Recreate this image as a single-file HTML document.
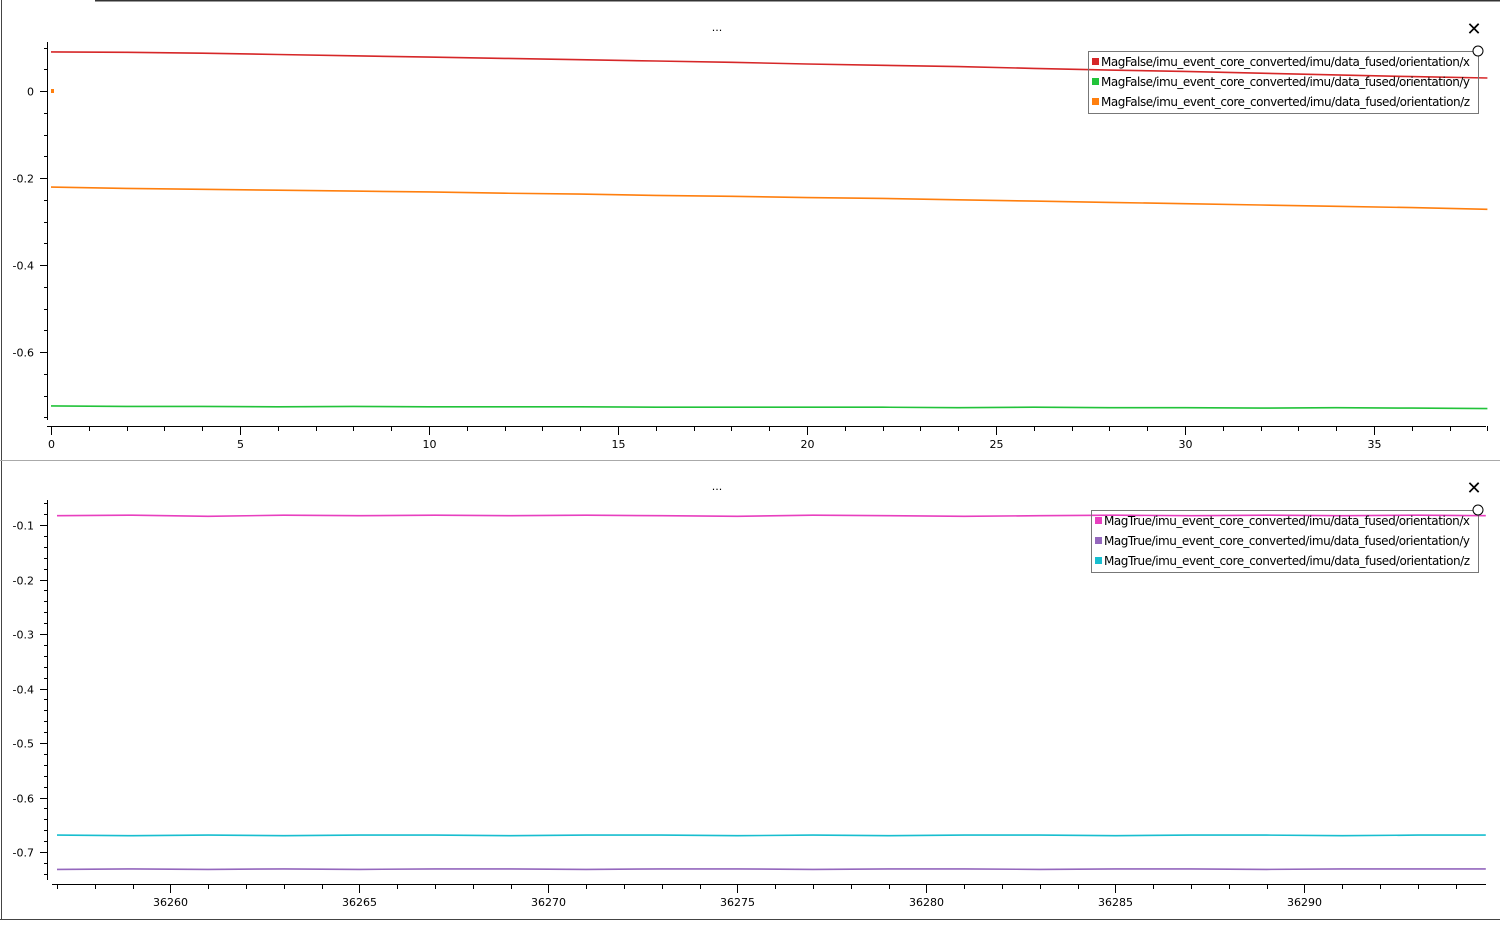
<!DOCTYPE html>
<html><head><meta charset="utf-8"><style>
body{margin:0;background:#fff;font-family:"Liberation Sans","DejaVu Sans",sans-serif}
svg text{font-family:"DejaVu Sans","Liberation Sans",sans-serif}
</style></head><body>
<svg id="c" width="1500" height="922" xmlns="http://www.w3.org/2000/svg">
<rect x="0" y="0" width="1500" height="922" fill="#fff"/>
<line x1="95" y1="0.5" x2="1500" y2="0.5" stroke="#333" stroke-width="2"/>
<line x1="1.5" y1="0" x2="1.5" y2="920" stroke="#444"/>
<line x1="0" y1="919.5" x2="1500" y2="919.5" stroke="#444"/>
<line x1="0" y1="460.5" x2="1500" y2="460.5" stroke="#aaa"/>
<g id="g"></g>
</svg>
<script>
// top chart data (t in seconds)
const topT=[0,2,4,6,8,10,12,14,16,18,20,22,24,26,28,30,32,34,36,38];
const topX=[0.090,0.089,0.087,0.084,0.081,0.078,0.075,0.072,0.069,0.066,0.062,0.059,0.056,0.052,0.048,0.045,0.041,0.037,0.033,0.030];
const topY=[-0.724,-0.725,-0.725,-0.726,-0.725,-0.726,-0.726,-0.726,-0.727,-0.727,-0.727,-0.727,-0.728,-0.727,-0.728,-0.728,-0.729,-0.728,-0.729,-0.730];
const topZ=[-0.221,-0.224,-0.226,-0.228,-0.230,-0.232,-0.235,-0.237,-0.240,-0.242,-0.245,-0.247,-0.250,-0.253,-0.256,-0.259,-0.262,-0.265,-0.268,-0.272];
const topYTicks=[0,-0.2,-0.4,-0.6];
const topXTicks=[0,5,10,15,20,25,30,35];
// bottom chart data
const botT=[36257,36259,36261,36263,36265,36267,36269,36271,36273,36275,36277,36279,36281,36283,36285,36287,36289,36291,36293,36294.8];
const botX=[-0.083,-0.082,-0.084,-0.082,-0.083,-0.082,-0.083,-0.082,-0.083,-0.084,-0.082,-0.083,-0.084,-0.083,-0.082,-0.083,-0.082,-0.083,-0.082,-0.083];
const botY=[-0.732,-0.731,-0.732,-0.731,-0.732,-0.731,-0.731,-0.732,-0.731,-0.731,-0.732,-0.731,-0.731,-0.732,-0.731,-0.731,-0.732,-0.731,-0.731,-0.731];
const botZ=[-0.669,-0.670,-0.669,-0.670,-0.669,-0.669,-0.670,-0.669,-0.669,-0.670,-0.669,-0.670,-0.669,-0.669,-0.670,-0.669,-0.669,-0.670,-0.669,-0.669];
const botYTicks=[-0.1,-0.2,-0.3,-0.4,-0.5,-0.6,-0.7];
const botXTicks=[36260,36265,36270,36275,36280,36285,36290];

const NS="http://www.w3.org/2000/svg",G=document.getElementById('g');
function el(t,a,p){const e=document.createElementNS(NS,t);for(const k in a)e.setAttribute(k,a[k]);(p||G).appendChild(e);return e;}
function chart(cfg){
  const g=el('g',{});
  
  
  const sx=v=>cfg.x0+(v-cfg.t0)*cfg.pxT, sy=v=>cfg.y0+(cfg.v0-v)*cfg.pxV;
  el('line',{x1:47.5,y1:cfg.yTop,x2:47.5,y2:cfg.yBot,stroke:'#000'},g);
  el('line',{x1:cfg.axL,y1:cfg.xAxY+0.5,x2:1486,y2:cfg.xAxY+0.5,stroke:'#000'},g);
  for(let v=cfg.minV0;v>=cfg.minV1-1e-9;v-=cfg.minStep){const y=Math.round(sy(v))+0.5;el('line',{x1:44,y1:y,x2:47,y2:y,stroke:'#000'},g);}
  cfg.yTicks.forEach(v=>{const y=Math.round(sy(v))+0.5;el('line',{x1:40,y1:y,x2:47,y2:y,stroke:'#000'},g);
    const t=el('text',{x:34,y:y+4,'text-anchor':'end','font-size':11,fill:'#000'},g);t.textContent=(v===0?'0':v.toFixed(1));
    });
  for(let v=Math.ceil(cfg.t0);v<=cfg.t1;v++){const x=Math.round(sx(v))+0.5;el('line',{x1:x,y1:cfg.xAxY,x2:x,y2:cfg.xAxY+5,stroke:'#000'},g);}
  cfg.xTicks.forEach(v=>{const x=Math.round(sx(v))+0.5;el('line',{x1:x,y1:cfg.xAxY,x2:x,y2:cfg.xAxY+9,stroke:'#000'},g);
    const t=el('text',{x:x,y:cfg.xAxY+22,'text-anchor':'middle','font-size':11,fill:'#000'},g);t.textContent=v;
    });
  cfg.series.forEach(s=>{
    const p=el('polyline',{points:cfg.ts.map((t,i)=>sx(t).toFixed(1)+','+sy(s.v[i]).toFixed(1)).join(' '),fill:'none',stroke:s.c,'stroke-width':1.6},g);
    
  });
  const tt=el('text',{x:717,y:cfg.titleY,'text-anchor':'middle','font-size':11},g);tt.textContent='...';
  
  const cx=el('text',{x:1474,y:cfg.titleY+4,'text-anchor':'middle','font-size':18},g);cx.textContent='✕';
  
  const lg=el('g',{},g);
  
  el('rect',{x:cfg.lgX+0.5,y:cfg.lgY+0.5,width:1478-cfg.lgX,height:62,fill:'none',stroke:'#777'},lg);
  cfg.series.forEach((s,i)=>{
    el('rect',{x:cfg.lgX+4,y:cfg.lgY+7+i*20,width:7,height:7,fill:s.c},lg);
    const t=el('text',{x:cfg.lgX+13,y:cfg.lgY+15+i*20,'font-size':12,fill:'#000',textLength:1470-cfg.lgX-13},lg);t.textContent=s.label;
    
  });
  el('circle',{cx:1478,cy:cfg.lgY,r:5,fill:'#fff',stroke:'#000'},lg);
}
chart({name:'top-chart',x0:51,t0:0,t1:38,pxT:37.8,y0:91,v0:0,pxV:435,yTop:42,yBot:420,xAxY:426,axL:47,
  minV0:0.1,minV1:-0.75,minStep:0.05,yTicks:topYTicks,xTicks:topXTicks,ts:topT,titleY:31,lgX:1088,lgY:51,
  series:[{n:'series-magfalse-x',c:'#d62728',v:topX,label:'MagFalse/imu_event_core_converted/imu/data_fused/orientation/x'},
          {n:'series-magfalse-y',c:'#22c33a',v:topY,label:'MagFalse/imu_event_core_converted/imu/data_fused/orientation/y'},
          {n:'series-magfalse-z',c:'#ff7f0e',v:topZ,label:'MagFalse/imu_event_core_converted/imu/data_fused/orientation/z'}]});
chart({name:'bottom-chart',x0:57,t0:36257,t1:36294.8,pxT:37.8,y0:525,v0:-0.1,pxV:545,yTop:500,yBot:880,xAxY:884,axL:52,
  minV0:-0.06,minV1:-0.74,minStep:0.02,yTicks:botYTicks,xTicks:botXTicks,ts:botT,titleY:490,lgX:1091,lgY:510,
  series:[{n:'series-magtrue-x',c:'#e83fbf',v:botX,label:'MagTrue/imu_event_core_converted/imu/data_fused/orientation/x'},
          {n:'series-magtrue-y',c:'#9467bd',v:botY,label:'MagTrue/imu_event_core_converted/imu/data_fused/orientation/y'},
          {n:'series-magtrue-z',c:'#17becf',v:botZ,label:'MagTrue/imu_event_core_converted/imu/data_fused/orientation/z'}]});
const m=el('rect',{x:51,y:89,width:3,height:4,fill:'#ff7f0e'});


</script>
</body></html>
